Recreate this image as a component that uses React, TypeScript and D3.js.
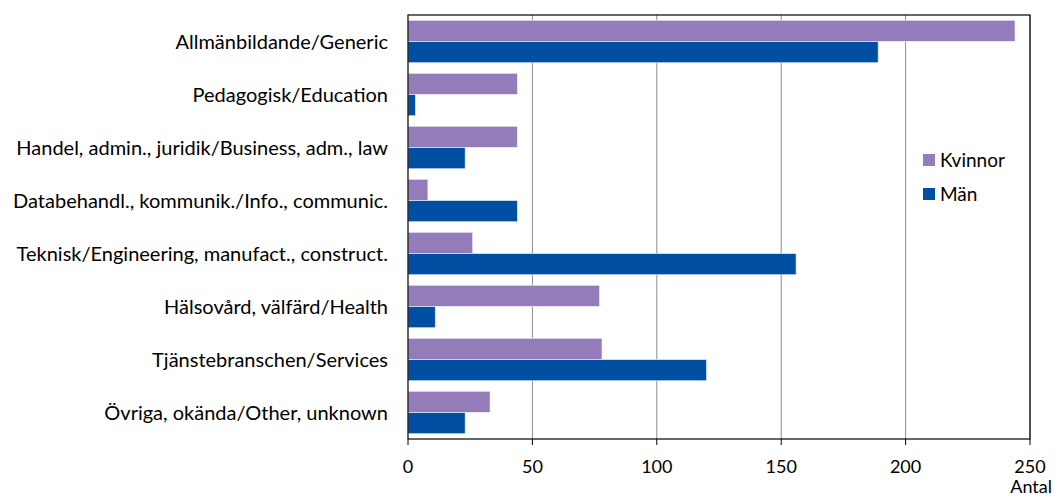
import React from "react";
import * as d3 from "d3";

const categories = [
  "Allmänbildande/Generic",
  "Pedagogisk/Education",
  "Handel, admin., juridik/Business, adm., law",
  "Databehandl., kommunik./Info., communic.",
  "Teknisk/Engineering, manufact., construct.",
  "Hälsovård, välfärd/Health",
  "Tjänstebranschen/Services",
  "Övriga, okända/Other, unknown",
];
const kvinnor = [244, 44, 44, 8, 26, 77, 78, 33];
const man = [189, 3, 23, 44, 156, 11, 120, 23];
const seriesNames = ["Kvinnor", "Män"];
const colors = ["#937cb9", "#004fa2"];
const ticks = [0, 50, 100, 150, 200, 250];

export default function App() {
  const W = 1055, H = 498;
  const left = 408, right = 1030, top = 15, bottom = 439;
  const x = d3.scaleLinear().domain([0, 250]).range([left, right]);
  const y = d3.scaleBand().domain(categories).range([top, bottom]).paddingInner(0.2).paddingOuter(0.1);
  const sub = d3.scaleBand().domain(seriesNames).range([0, y.bandwidth()]);
  const font = "Lato, 'Open Sans', sans-serif";
  const series = [kvinnor, man];
  return (
    <svg width={W} height={H} style={{ position: "absolute", left: 0, top: 0, fontFamily: font }}>
      <rect width={W} height={H} fill="#fff" />
      {ticks.slice(1).map((t) => (
        <line key={t} x1={x(t)} x2={x(t)} y1={top} y2={bottom} stroke="#8c8c8c" strokeWidth={1} />
      ))}
      {series.map((vals, si) =>
        vals.map((v, i) => (
          <rect
            key={si + "-" + i}
            x={x(0)}
            y={(y(categories[i]) as number) + (sub(seriesNames[si]) as number)}
            width={x(v) - x(0)}
            height={sub.bandwidth()}
            fill={colors[si]}
            stroke="#fff"
            strokeOpacity={0.6}
            strokeWidth={1}
          />
        ))
      )}
      <rect x={left} y={top} width={right - left} height={bottom - top} fill="none" stroke="#000" strokeWidth={1.2} />
      {ticks.map((t) => (
        <g key={t}>
          <line x1={x(t)} x2={x(t)} y1={bottom} y2={bottom + 6} stroke="#000" />
          <text x={x(t)} y={bottom + 34} textAnchor="middle" fontSize={18} fill="#000">{t}</text>
        </g>
      ))}
      <text x={1052} y={493} textAnchor="end" fontSize={18} fill="#000">Antal</text>
      {categories.map((c) => (
        <text key={c} x={388} y={(y(c) as number) + y.bandwidth() / 2 + 7} textAnchor="end" fontSize={20} fill="#000">{c}</text>
      ))}
      {seriesNames.map((n, i) => (
        <g key={n}>
          <rect x={923} y={154 + i * 34} width={12} height={12} fill={colors[i]} />
          <text x={940} y={167 + i * 34} fontSize={19} fill="#000">{n}</text>
        </g>
      ))}
    </svg>
  );
}
